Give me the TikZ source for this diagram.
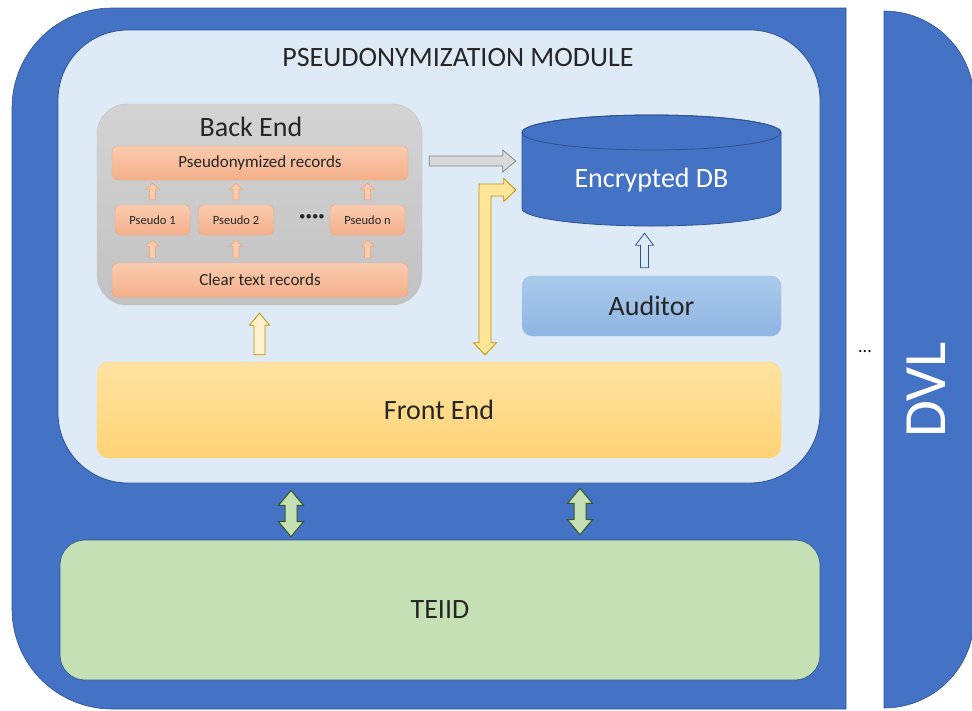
\documentclass[tikz,border=0pt]{standalone}
\usepackage{fontspec}
\setmainfont{Carlito}
\usetikzlibrary{calc}
\definecolor{dvlblue}{HTML}{4472C4}
\definecolor{dvlline}{HTML}{2F528F}
\definecolor{panelfill}{HTML}{DEEBF7}
\definecolor{txt}{HTML}{262626}
\definecolor{graytop}{HTML}{D3D3D3}
\definecolor{graybot}{HTML}{C2C2C2}
\definecolor{grayline}{HTML}{BFBFBF}
\definecolor{saltop}{HTML}{F9CBAE}
\definecolor{salbot}{HTML}{F4AF8B}
\definecolor{salline}{HTML}{F2A67F}
\definecolor{audtop}{HTML}{AACAEB}
\definecolor{audbot}{HTML}{90B5E3}
\definecolor{audline}{HTML}{9DC3E6}
\definecolor{fronttop}{HTML}{FFE3A2}
\definecolor{frontbot}{HTML}{FFD375}
\definecolor{frontline}{HTML}{FFD966}
\definecolor{teiidfill}{HTML}{C5E0B4}
\definecolor{greenline}{HTML}{385723}
\definecolor{yelfill}{HTML}{FFE699}
\definecolor{yelline}{HTML}{BF9000}
\definecolor{paleyel}{HTML}{FFF2CC}
\definecolor{arrgray}{HTML}{D9D9D9}
\definecolor{arrgrayline}{HTML}{7F7F7F}
\definecolor{arrblue}{HTML}{2F5597}
\newcommand\bigtxt{\fontsize{28}{32}\selectfont}
\newcommand\recordtxt{\fontsize{17}{20}\selectfont}
\newcommand\pseudotxt{\fontsize{12.5}{15}\selectfont}
\newcommand\dvltxt{\fontsize{60}{66}\selectfont}
\tikzset{
  fat/.style n args={3}{to path={
    ($(\tikztostart)!#1!90:(\tikztotarget)$)
    -- ($(\tikztotarget)!#3!(\tikztostart)!#1!90:(\tikztotarget)$)
    -- ($(\tikztotarget)!#3!(\tikztostart)!#2!90:(\tikztotarget)$)
    -- (\tikztotarget)
    -- ($(\tikztotarget)!#3!(\tikztostart)!#2!-90:(\tikztotarget)$)
    -- ($(\tikztotarget)!#3!(\tikztostart)!#1!-90:(\tikztotarget)$)
    -- ($(\tikztostart)!#1!-90:(\tikztotarget)$)
    -- cycle}},
  fatboth/.style n args={3}{to path={
    (\tikztostart)
    -- ($(\tikztostart)!#3!(\tikztotarget)!#2!90:(\tikztotarget)$)
    -- ($(\tikztostart)!#3!(\tikztotarget)!#1!90:(\tikztotarget)$)
    -- ($(\tikztotarget)!#3!(\tikztostart)!#1!90:(\tikztotarget)$)
    -- ($(\tikztotarget)!#3!(\tikztostart)!#2!90:(\tikztotarget)$)
    -- (\tikztotarget)
    -- ($(\tikztotarget)!#3!(\tikztostart)!#2!-90:(\tikztotarget)$)
    -- ($(\tikztotarget)!#3!(\tikztostart)!#1!-90:(\tikztotarget)$)
    -- ($(\tikztostart)!#3!(\tikztotarget)!#1!-90:(\tikztotarget)$)
    -- ($(\tikztostart)!#3!(\tikztotarget)!#2!-90:(\tikztotarget)$)
    -- cycle}},
  panel/.style={draw=dvlline, fill=panelfill, rounded corners=70pt, line width=0.8pt},
  backbox/.style={draw=grayline, top color=graytop, bottom color=graybot, rounded corners=30pt},
  record/.style={draw=salline, top color=saltop, bottom color=salbot, rounded corners=6pt,
    minimum width=296pt, minimum height=34pt, font=\recordtxt, text=txt},
  pseudo/.style={draw=salline, top color=saltop, bottom color=salbot, rounded corners=5pt,
    minimum width=75pt, minimum height=30pt, font=\pseudotxt, text=txt},
  salarrow/.style={draw=salline, fill=saltop, line width=0.6pt, fat={3pt}{6.5pt}{6pt}},
  label/.style={font=\bigtxt, text=txt}
}
\begin{document}
\begin{tikzpicture}[x=1pt,y=-1pt]
\useasboundingbox (0,0) rectangle (972,710);
\draw[dvlline, fill=dvlblue, line width=0.6pt] (846,8) -- (112,8)
  arc[start angle=90, end angle=180, radius=100pt] -- (12,609)
  arc[start angle=180, end angle=270, radius=100pt] -- (846,709) -- cycle;
\draw[dvlline, fill=dvlblue, line width=0.6pt] (884,11)
  arc[start angle=90, end angle=0, radius=90pt] -- (974,618)
  arc[start angle=0, end angle=-90, radius=90pt] -- cycle;
\node[font=\dvltxt, text=white, rotate=90] (dvl) at (926,390) {DVL};
\node[font=\fontsize{18}{20}\selectfont] (more) at (865,352) {...};

\node[panel, minimum width=762pt, minimum height=453pt] (panel) at (439,256.5) {};
\node[label] (title) at (458,58) {PSEUDONYMIZATION MODULE};

\node[backbox, minimum width=325pt, minimum height=201pt] (back) at (259.5,204.5) {};
\node[label] (backtitle) at (251,127) {Back End};
\node[record] (pseud) at (260,163) {Pseudonymized records};
\node[pseudo] (p1) at (152.5,220) {Pseudo 1};
\node[pseudo] (p2) at (236,220) {Pseudo 2};
\node[pseudo] (pn) at (367.5,220) {Pseudo n};
\node[font=\bfseries\fontsize{24}{26}\selectfont, text=txt] (dots) at (312,219) {····};
\node[record] (clear) at (260,280) {Clear text records};
\foreach \p in {p1,p2,pn} {
  \draw[salarrow] ($(\p |- clear.north)+(0,-5)$) to ($(\p.south)+(0,5)$);
  \draw[salarrow] ($(\p.north)+(0,-5)$) to ($(\p |- pseud.south)+(0,3)$);
}

\node[minimum width=259pt, minimum height=111pt] (db) at (651.5,170.5) {};
\draw[dvlline, fill=dvlblue, line width=0.8pt] (522,208.5)
  arc[start angle=180, end angle=360, x radius=129.5pt, y radius=17.5pt]
  -- (781,132.5)
  arc[start angle=0, end angle=180, x radius=129.5pt, y radius=17.5pt] -- cycle;
\draw[dvlline, line width=0.8pt] (651.5,132.5) ellipse[x radius=129.5pt, y radius=17.5pt];
\node[font=\bigtxt, text=white] (dbtext) at (651.5,180) {Encrypted DB};

\node[draw=audline, top color=audtop, bottom color=audbot, rounded corners=10pt,
  minimum width=259pt, minimum height=60pt, label] (aud) at (651.5,306) {Auditor};
\node[draw=frontline, top color=fronttop, bottom color=frontbot, rounded corners=12pt,
  minimum width=684pt, minimum height=96pt, label] (front) at (439,410) {Front End};
\node[draw=dvlline, fill=teiidfill, rounded corners=25pt, line width=0.6pt,
  minimum width=760pt, minimum height=140pt, label] (teiid) at (440,610) {TEIID};

\draw[draw=arrgrayline, fill=arrgray, line width=0.7pt, fat={5pt}{11pt}{13pt}]
  ($(pseud.east)+(21,-2)$) to ($(db.west |- pseud.east)+(-6,-2)$);
\draw[draw=arrblue, fill=panelfill, line width=0.8pt, fat={4pt}{9pt}{12pt}]
  ($(aud.north)+(-7,-8)$) to ($(db.south)+(-7,7)$);
\draw[draw=yelline, fill=paleyel, line width=0.8pt, fat={5.5pt}{10pt}{12pt}]
  ($(back.south |- front.north)+(0,-7)$) to ($(back.south)+(0,8)$);

\coordinate (bend) at (485,190);
\coordinate (tipr) at ($(db.west |- bend)+(-6,0)$);
\coordinate (tipd) at ($(front.north -| bend)+(0,-7)$);
\draw[draw=yelline, fill=yelfill, line width=0.8pt]
  ($(bend)+(-6,-6)$) -- ($(tipr)+(-12,-6)$) -- ($(tipr)+(-12,-11.5)$) -- (tipr)
  -- ($(tipr)+(-12,11.5)$) -- ($(tipr)+(-12,6)$) -- ($(bend)+(6,6)$)
  -- ($(tipd)+(6,-12)$) -- ($(tipd)+(11.5,-12)$) -- (tipd)
  -- ($(tipd)+(-11.5,-12)$) -- ($(tipd)+(-6,-12)$) -- cycle;

\draw[draw=greenline, fill=teiidfill, line width=1pt, fatboth={6pt}{12.5pt}{15pt}]
  ($(panel.south)+(-148,7)$) to ($(teiid.north)+(-149,-3)$);
\draw[draw=greenline, fill=teiidfill, line width=1pt, fatboth={6pt}{12.5pt}{15pt}]
  ($(panel.south)+(141,5)$) to ($(teiid.north)+(140,-5)$);
\end{tikzpicture}
\end{document}
